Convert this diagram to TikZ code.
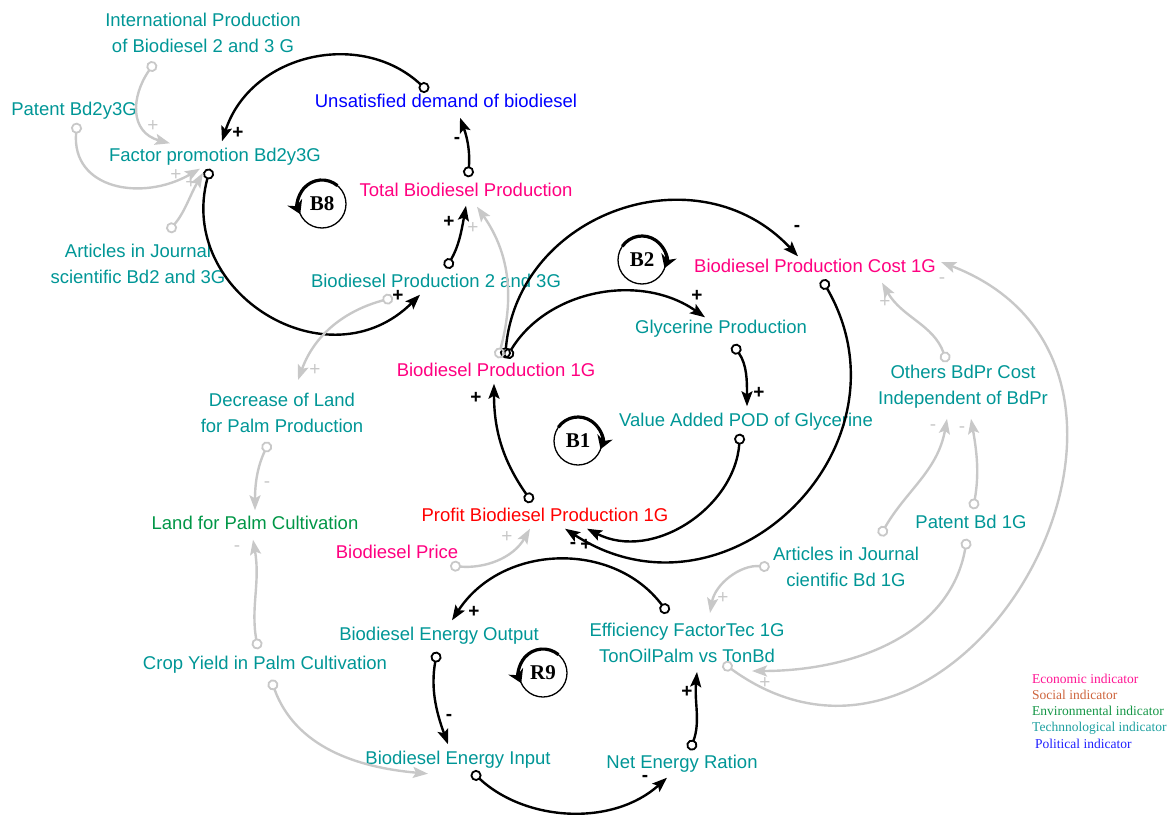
\documentclass[tikz,border=0pt]{standalone}
\usepackage{fontspec}
\setmainfont{Liberation Sans}
\newfontfamily\loopserif{Liberation Serif}
\usepackage{tikz}
\usetikzlibrary{arrows.meta}

\definecolor{tech}{RGB}{0,150,150}
\definecolor{econ}{RGB}{255,0,128}
\definecolor{envi}{RGB}{0,150,70}
\definecolor{poli}{RGB}{0,0,255}
\definecolor{prof}{RGB}{255,0,0}
\definecolor{socl}{RGB}{205,100,60}
\definecolor{leggreen}{RGB}{20,150,70}
\definecolor{legteal}{RGB}{30,160,160}
\definecolor{legpink}{RGB}{255,20,147}
\definecolor{legblue}{RGB}{30,30,255}
\definecolor{linkgray}{RGB}{200,200,200}

\tikzset{
  var/.style={font=\fontsize{18.5}{26}\selectfont, inner xsep=2pt, inner ysep=3pt,
    text height=13pt, text depth=4pt},
  vartwo/.style={font=\fontsize{18.5}{26}\selectfont, inner sep=3pt, align=center},
  link/.style={line width=2.4pt,
    {Circle[open,length=11pt,line width'=1.8pt]}-{Stealth[length=15pt,width=11pt,inset=3pt]}},
  glink/.style={link, draw=linkgray},
  sgn/.style={font=\fontsize{19}{19}\selectfont\bfseries, inner sep=0pt},
  gsgn/.style={font=\fontsize{19}{19}\selectfont, text=linkgray, inner sep=0pt},
  loopname/.style={font=\loopserif\fontsize{21}{21}\selectfont\bfseries},
  legend/.style={font=\loopserif\fontsize{13.5}{16}\selectfont, inner sep=0pt, anchor=base west}
}

\begin{document}
\begin{tikzpicture}[x=1pt,y=1pt]
  \useasboundingbox (0,0) rectangle (1175,-816);

  % Variables
  \node[vartwo, text=tech] (intl) at (203,-33) {International Production\\of Biodiesel 2 and 3 G};
  \node[var, text=tech] (pat23) at (74,-111) {Patent Bd2y3G};
  \node[var, text=tech] (factor) at (215,-157) {Factor promotion Bd2y3G};
  \node[var, text=poli] (unsat) at (446,-103) {Unsatisfied demand of biodiesel};
  \node[var, text=econ] (total) at (466,-192) {Total Biodiesel Production};
  \node[vartwo, text=tech] (art23) at (138,-264) {Articles in Journal\\scientific Bd2 and 3G};
  \node[var, text=tech] (bd23) at (436,-283) {Biodiesel Production 2 and 3G};
  \node[var, text=econ] (cost) at (815,-268) {Biodiesel Production Cost 1G};
  \node[var, text=tech] (gly) at (721,-329) {Glycerine Production};
  \node[var, text=econ] (bd1g) at (496,-372) {Biodiesel Production 1G};
  \node[vartwo, text=tech] (decr) at (282,-413) {Decrease of Land\\for Palm Production};
  \node[vartwo, text=tech] (others) at (963,-387) {Others BdPr Cost\\Independent of BdPr};
  \node[var, text=tech] (vapod) at (746,-422) {Value Added POD of Glycerine};
  \node[var, text=envi] (land) at (255,-525) {Land for Palm Cultivation};
  \node[var, text=prof] (profit) at (545,-517) {Profit Biodiesel Production 1G};
  \node[var, text=tech] (pat1g) at (971,-524) {Patent Bd 1G};
  \node[var, text=econ] (price) at (397,-554) {Biodiesel Price};
  \node[vartwo, text=tech] (art1g) at (846,-567) {Articles in Journal\\cientific Bd 1G};
  \node[var, text=tech] (beo) at (439,-636) {Biodiesel Energy Output};
  \node[vartwo, text=tech] (eff) at (687,-643) {Efficiency FactorTec 1G\\TonOilPalm vs TonBd};
  \node[var, text=tech] (crop) at (265,-665) {Crop Yield in Palm Cultivation};
  \node[var, text=tech] (bei) at (458,-760) {Biodiesel Energy Input};
  \node[var, text=tech] (ner) at (682,-764) {Net Energy Ration};

  % Loop links (black)
  \draw[link] ([xshift=-18pt]unsat.north) to[out=137,in=72,looseness=1.11] ([xshift=7pt,yshift=4pt]factor.north);
  \draw[link] ([xshift=-5pt]factor.south) to[out=255,in=225,looseness=1.35] ([xshift=-16pt]bd23.south);
  \draw[link] ([xshift=2pt,yshift=3pt]total.north) to[out=85,in=-70] ([xshift=14pt,yshift=-3pt]unsat.south);
  \draw[link] ([xshift=10pt,yshift=3pt]bd23.north) to[out=60,in=-100] ([yshift=-2pt]total.south);
  \draw[link] ([xshift=9pt,yshift=2pt]bd1g.north) to[out=85,in=133,looseness=1.21] ([xshift=-17pt]cost.north);
  \draw[link] ([xshift=10pt,yshift=2pt]bd1g.north) to[out=59,in=145] ([xshift=-16pt]gly.north);
  \draw[link] ([xshift=12pt,yshift=-4pt]gly.south) to[out=-55,in=90] ([xshift=1pt,yshift=4pt]vapod.north);
  \draw[link] ([xshift=-6pt]vapod.south) to[out=-94,in=-27,looseness=1.05] ([xshift=42pt]profit.south);
  \draw[link] ([xshift=7pt]cost.south) to[out=-60,in=-33,looseness=1.38] ([xshift=20pt]profit.south);
  \draw[link] ([xshift=-13pt,yshift=3pt]profit.north) to[out=125,in=-90] ([xshift=-2pt]bd1g.south);
  \draw[link] ([xshift=-19pt,yshift=7pt]eff.north) to[out=127,in=57,looseness=1.08] ([xshift=13pt,yshift=4pt]beo.north);
  \draw[link] ([xshift=-2pt,yshift=-4pt]beo.south) to[out=-100,in=110] ([xshift=-10pt,yshift=4pt]bei.north);
  \draw[link] ([xshift=14pt]bei.south) to[out=-43,in=222,looseness=0.96] ([xshift=-15pt,yshift=-2pt]ner.south);
  \draw[link] ([xshift=8pt,yshift=2pt]ner.north) to[out=70,in=-95] ([xshift=10pt,yshift=-6pt]eff.south);

  % Other links (grey)
  \draw[glink] ([xshift=-48pt,yshift=-6pt]intl.south) to[out=235,in=165,looseness=1.3] ([xshift=-45pt,yshift=2pt]factor.north);
  \draw[glink] ([xshift=3pt]pat23.south) to[out=-95,in=210,looseness=1.3] ([xshift=-15pt]factor.south);
  \draw[glink] ([xshift=30pt,yshift=9pt]art23.north) to[out=50,in=-120] ([xshift=-12pt,yshift=-4pt]factor.south);
  \draw[glink] ([xshift=-43pt,yshift=-3pt]bd23.south) to[out=195,in=70] ([xshift=16pt,yshift=10pt]decr.north);
  \draw[glink] ([xshift=-13pt,yshift=-6pt]decr.south) to[out=-115,in=90] ([yshift=3pt]land.north);
  \draw[glink] ([xshift=-7pt,yshift=4pt]crop.north) to[out=100,in=-80] ([xshift=-2pt,yshift=-3pt]land.south);
  \draw[glink] ([xshift=6pt,yshift=-3pt]crop.south) to[out=-70,in=175] ([xshift=-30pt,yshift=-2pt]bei.south);
  \draw[glink] ([xshift=2pt,yshift=2pt]bd1g.north) to[out=75,in=-55] ([xshift=11pt,yshift=-3pt]total.south);
  \draw[glink] ([xshift=53pt]price.south) to[out=-5,in=-120] ([xshift=-15pt]profit.south);
  \draw[glink] ([xshift=-16pt]others.north) to[out=110,in=-60] ([xshift=67pt,yshift=-3pt]cost.south);
  \draw[glink] ([xshift=34pt,yshift=8pt]art1g.north) to[out=60,in=-100] ([xshift=-16pt,yshift=-7pt]others.south);
  \draw[glink] ([xshift=2pt,yshift=3pt]pat1g.north) to[out=80,in=-80] ([xshift=8pt,yshift=-7pt]others.south);
  \draw[glink] (art1g.west) to[out=175,in=80] ([xshift=23pt,yshift=7pt]eff.north);
  \draw[glink] ([xshift=-4pt,yshift=-3pt]pat1g.south) to[out=-100,in=0] ([xshift=65pt,yshift=-5pt]eff.south);
  \draw[glink] ([xshift=36pt,yshift=3pt]eff.south) to[out=-36,in=-21,looseness=1.68] ([xshift=3pt,yshift=6pt]cost.east);

  % Polarity signs
  \node[sgn] (sa) at (238,-133) {+};
  \node[sgn] (sb) at (398,-296) {+};
  \node[sgn] (sc) at (457,-140) {-};
  \node[sgn] (sd) at (449,-222) {+};
  \node[sgn] (se) at (797,-228) {-};
  \node[sgn] (sf) at (697,-296) {+};
  \node[sgn] (sg) at (759,-393) {+};
  \node[sgn] (sh) at (586,-545) {+};
  \node[sgn] (si) at (573,-545) {-};
  \node[sgn] (sj) at (476,-398) {+};
  \node[sgn] (sk) at (474,-612) {+};
  \node[sgn] (sl) at (449,-717) {-};
  \node[sgn] (sm) at (645,-778) {-};
  \node[sgn] (sn) at (687,-692) {+};
  \node[gsgn] (go) at (153,-126) {+};
  \node[gsgn] (gp) at (176,-175) {+};
  \node[gsgn] (gq) at (191,-183) {+};
  \node[gsgn] (gr) at (315,-370) {+};
  \node[gsgn] (gs) at (267,-485) {-};
  \node[gsgn] (gt) at (237,-549) {-};
  \node[gsgn] (gv) at (473,-228) {+};
  \node[gsgn] (gw) at (507,-537) {+};
  \node[gsgn] (gx) at (885,-302) {+};
  \node[gsgn] (gy) at (933,-428) {-};
  \node[gsgn] (gz) at (962,-430) {-};
  \node[gsgn] (gaa) at (723,-598) {+};
  \node[gsgn] (gbb) at (765,-683) {+};
  \node[gsgn] (gcc) at (942,-281) {-};

  % Loop markers
  \foreach \x/\y/\lab/\a/\b in {322/-204/B8/50/205, 642/-260/B2/145/-20, 578/-441/B1/145/-20, 543/-673/R9/50/205} {
    \draw[line width=1.3pt] (\x,\y) circle (24pt);
    \draw[line width=3.2pt,-{Stealth[length=13pt,width=16pt]}] (\x,\y) ++(\a:24pt) arc[start angle=\a,end angle=\b,radius=24pt];
    \node[loopname] (loop\lab) at (\x,\y) {\lab};
  }

  % Legend
  \foreach \lab/\col/\y in {Economic/legpink/683, Social/socl/699, Environmental/leggreen/715, Technnological/legteal/731} {
    \node[legend, text=\col] (leg\lab) at (1032,-\y) {\lab\ indicator};
  }
  \node[legend, text=legblue] (legPolitical) at (1035,-748) {Political indicator};
\end{tikzpicture}
\end{document}
